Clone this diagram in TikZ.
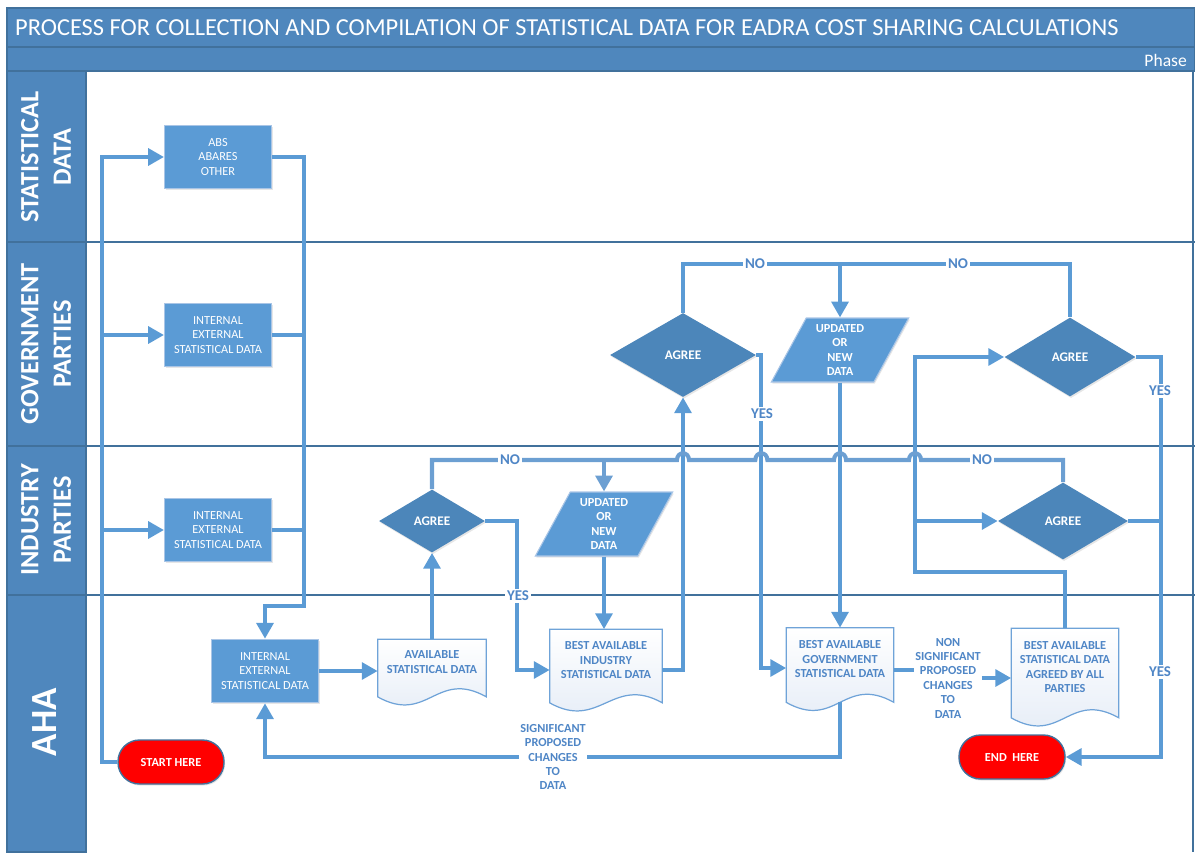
\documentclass[tikz,border=0pt]{standalone}
\usepackage{fontspec}
\setmainfont{Carlito}
\usetikzlibrary{shapes.geometric, shadows, calc, arrows.meta, backgrounds}

\definecolor{lanebg}{HTML}{4F87BD}
\definecolor{laneedge}{HTML}{41719C}
\definecolor{boxfill}{HTML}{5B9BD5}
\definecolor{boxedge}{HTML}{A9C5E6}
\definecolor{decfill}{HTML}{4C86BA}
\definecolor{flowblue}{HTML}{5B9BD5}
\definecolor{hopblue}{HTML}{6C9FD2}
\definecolor{doctext}{HTML}{4F86C6}
\definecolor{docedge}{HTML}{6FA3D8}
\definecolor{docfill}{HTML}{E3EBF6}
\definecolor{startred}{HTML}{FF0000}

\tikzset{
	softshadow/.style={drop shadow={opacity=0.2, shadow xshift=0.6pt, shadow yshift=-0.9pt}},
	lanetext/.style={rotate=90, text=white, align=center,
		font=\bfseries\fontsize{15}{18.5}\selectfont},
	procbox/.style={rectangle, fill=boxfill, draw=boxedge, line width=0.6pt, softshadow,
		text=white, align=center, font=\fontsize{7}{8.2}\selectfont,
		minimum width=2.14cm, minimum height=1.27cm, inner sep=1pt},
	decision/.style={diamond, fill=decfill, softshadow, text=white, inner sep=0pt,
		font=\bfseries\fontsize{7.5}{9}\selectfont},
	datain/.style={trapezium, trapezium left angle=64, trapezium right angle=116,
		trapezium stretches=true, fill=boxfill, draw=boxedge, line width=0.6pt, softshadow,
		text=white, align=center, font=\bfseries\fontsize{7}{8.2}\selectfont,
		minimum width=2.76cm, minimum height=1.28cm, inner sep=0pt},
	docbox/.style={rectangle, inner sep=1pt, text=doctext, align=center,
		font=\bfseries\fontsize{7}{8.2}\selectfont},
	docline/.style={draw=docedge, line width=0.7pt, top color=white, bottom color=docfill},
	terminal/.style={rectangle, rounded corners=0.43cm, fill=startred, draw=laneedge,
		line width=0.8pt, softshadow, text=white, font=\bfseries\fontsize{7}{8}\selectfont,
		minimum width=2.12cm, minimum height=0.88cm},
	flow/.style={draw=flowblue, line width=2.3pt, >={Triangle[length=9pt,width=9.5pt]}},
	hopflow/.style={flow, draw=hopblue},
	answer/.style={fill=white, inner sep=1pt, text=doctext,
		font=\bfseries\fontsize{8.5}{10}\selectfont},
	changes/.style={answer, align=center, inner sep=0.5pt,
		font=\bfseries\fontsize{7}{8.2}\selectfont}
}

\begin{document}
\begin{tikzpicture}[x=0.02cm, y=-0.02cm]
	\useasboundingbox (0,0) rectangle (1195,852);

	% title and phase bars
	\filldraw[fill=lanebg, draw=laneedge, line width=0.6pt] (7,8) rectangle (1195,47);
	\filldraw[fill=lanebg, draw=laneedge, line width=0.6pt] (7,47) rectangle (1195,71);
	\node[anchor=west, text=white, font=\fontsize{13.9}{17}\selectfont] (title) at (9,28)
		{PROCESS FOR COLLECTION AND COMPILATION OF STATISTICAL DATA FOR EADRA COST SHARING CALCULATIONS};
	\node[anchor=east, text=white, font=\fontsize{10}{12}\selectfont] (phase) at (1193,60) {Phase};

	% swimlanes
	\foreach \ytop/\ybot in {71/242, 242/446, 446/595, 595/852}
		\filldraw[fill=lanebg, draw=laneedge, line width=0.6pt] (7,\ytop) rectangle (86,\ybot);
	\foreach \y in {242, 446, 595}
		\draw[laneedge, line width=0.8pt] (86,\y) -- (1195,\y);
	\draw[laneedge, line width=0.8pt] (1193,71) -- (1193,852);

	\node[lanetext] (statlane) at (46,157) {STATISTICAL\\DATA};
	\node[lanetext] (govlane)  at (46,344) {GOVERNMENT\\PARTIES};
	\node[lanetext] (indlane)  at (46,520) {INDUSTRY\\PARTIES};
	\node[lanetext, font=\bfseries\fontsize{21}{24}\selectfont] (ahalane) at (45,722) {AHA};

	% sources
	\node[procbox] (abs)    at (218,157) {ABS\\ABARES\\OTHER};
	\node[procbox] (govbox) at (218,335) {INTERNAL\\EXTERNAL\\STATISTICAL DATA};
	\node[procbox] (indbox) at (218,530) {INTERNAL\\EXTERNAL\\STATISTICAL DATA};
	\node[procbox] (ahabox) at (265,671) {INTERNAL\\EXTERNAL\\STATISTICAL DATA};

	% documents
	\node[docbox, minimum width=2.16cm, minimum height=0.9cm] (avail) at (432,662)
		{AVAILABLE\\STATISTICAL DATA};
	\node[docbox, minimum width=2.24cm, minimum height=1.22cm] (bestind) at (606,660)
		{BEST AVAILABLE\\INDUSTRY\\STATISTICAL DATA};
	\node[docbox, minimum width=2.14cm, minimum height=1.24cm] (bestgov) at (840,659)
		{BEST AVAILABLE\\GOVERNMENT\\STATISTICAL DATA};
	\node[docbox, minimum width=2.14cm, minimum height=1.54cm] (final) at (1065,667)
		{BEST AVAILABLE\\STATISTICAL DATA\\AGREED BY ALL\\PARTIES};
	\begin{scope}[on background layer]
		\foreach \doc in {avail, bestind, bestgov, final}
			\path[docline] (\doc.north west) -- (\doc.north east)
				-- ($(\doc.south east)+(0,12)$)
				.. controls +(-50,-28) and +(50,28) .. ($(\doc.south west)+(0,12)$)
				-- cycle;
	\end{scope}

	% decisions
	\node[decision, minimum width=2.12cm, minimum height=1.26cm] (agree1) at (432,521) {AGREE};
	\node[decision, minimum width=2.92cm, minimum height=1.68cm] (agree2) at (683,355) {AGREE};
	\node[decision, minimum width=2.62cm, minimum height=1.58cm] (agree3) at (1070,357) {AGREE};
	\node[decision, minimum width=2.6cm, minimum height=1.54cm] (agree4) at (1063,521) {AGREE};

	\node[datain] (updated1) at (604,524) {UPDATED\\OR\\NEW\\DATA};
	\node[datain] (updated2) at (840,350) {UPDATED\\OR\\NEW\\DATA};

	\node[terminal] (start)   at (171,762) {START HERE};
	\node[terminal] (endnode) at (1012,757) {END\ \ HERE};

	\node[changes] (nonsig) at (948,678) {NON\\SIGNIFICANT\\PROPOSED\\CHANGES\\TO\\DATA};
	\coordinate (hoprow) at (0,460);

	% collection
	\draw[flow, ->] (start.west) -| ($(abs.west)+(-62,0)$) -- (abs.west);
	\draw[flow, ->] ($(govbox.west)+(-62,0)$) -- (govbox.west);
	\draw[flow, ->] ($(indbox.west)+(-62,0)$) -- (indbox.west);
	\draw[flow, ->] (abs.east) -- ++(32,0) |- ($(ahabox.north)+(0,-33)$) -- (ahabox.north);
	\draw[flow] (govbox.east) -- ++(32,0);
	\draw[flow] (indbox.east) -- ++(32,0);
	\draw[flow, ->] (ahabox.east) -- (avail.west |- ahabox.east);

	% industry round
	\draw[flow, ->] (avail.north) -- (agree1.south);
	\draw[flow, ->] (agree1.east) -- ++(32,0) |- ($(bestind.west)+(0,10)$);
	\draw[flow, ->] (updated1.south) -- (updated1.south |- bestind.north);

	% government round
	\draw[flow, ->] ($(bestind.east)+(0,10)$) -| (agree2.south);
	\draw[flow] (agree2.north) -- ++(0,-49) coordinate (govno) -| (agree3.north);
	\draw[flow, ->] (updated2.north |- govno) -- (updated2.north);
	\draw[flow, ->] (agree2.east) -- ++(5,0) |- ($(bestgov.west)+(0,9)$);
	\draw[flow, ->] (updated2.south) -- (updated2.south |- bestgov.north);
	\draw[flow, ->] ($(bestgov.south)+(0,12)$) |- ($(ahabox.south)+(0,54)$) -- (ahabox.south);
	\draw[flow] ($(bestgov.east)+(0,11)$) -- ($(nonsig.west)+(0,-8)$);
	\draw[flow, ->] (nonsig.east) -- (final.west |- nonsig.east);

	% final agreement
	\draw[flow, ->] (final.north) -- ++(0,-56) -- ++(-150,0) coordinate (loop) |- (agree3.west);
	\draw[flow, ->] (loop |- agree4.west) -- (agree4.west);
	\draw[flow, ->] (agree3.east) -- ++(25,0) |- (endnode.east);
	\draw[flow] (agree4.east) -- ++(32,0);

	% NO line jumping over the verticals
	\draw[hopflow] (agree1.north) |- ($(agree2.south |- hoprow)+(-6,0)$)
		.. controls +(0,-9) and +(0,-9) .. ++(12,0)
		-- ($(agree2.east |- hoprow)+(-1,0)$) .. controls +(0,-9) and +(0,-9) .. ++(12,0)
		-- ($(updated2.south |- hoprow)+(-6,0)$) .. controls +(0,-9) and +(0,-9) .. ++(12,0)
		-- ($(loop |- hoprow)+(-6,0)$) .. controls +(0,-9) and +(0,-9) .. ++(12,0)
		-| (agree4.north);
	\draw[hopflow, ->] (updated1.north |- hoprow) -- (updated1.north);

	% answers
	\node[answer] (no1)  at (510,460) {NO};
	\node[answer] (no2)  at (982,460) {NO};
	\node[answer] (no3)  at (755,264) {NO};
	\node[answer] (no4)  at (958,264) {NO};
	\node[answer] (yes1) at (518,596) {YES};
	\node[answer] (yes2) at (762,414) {YES};
	\node[answer] (yes3) at (1160,391) {YES};
	\node[answer] (yes4) at (1160,672) {YES};
	\node[changes] (sig) at (553,757) {SIGNIFICANT\\PROPOSED\\CHANGES\\TO\\DATA};
\end{tikzpicture}
\end{document}
